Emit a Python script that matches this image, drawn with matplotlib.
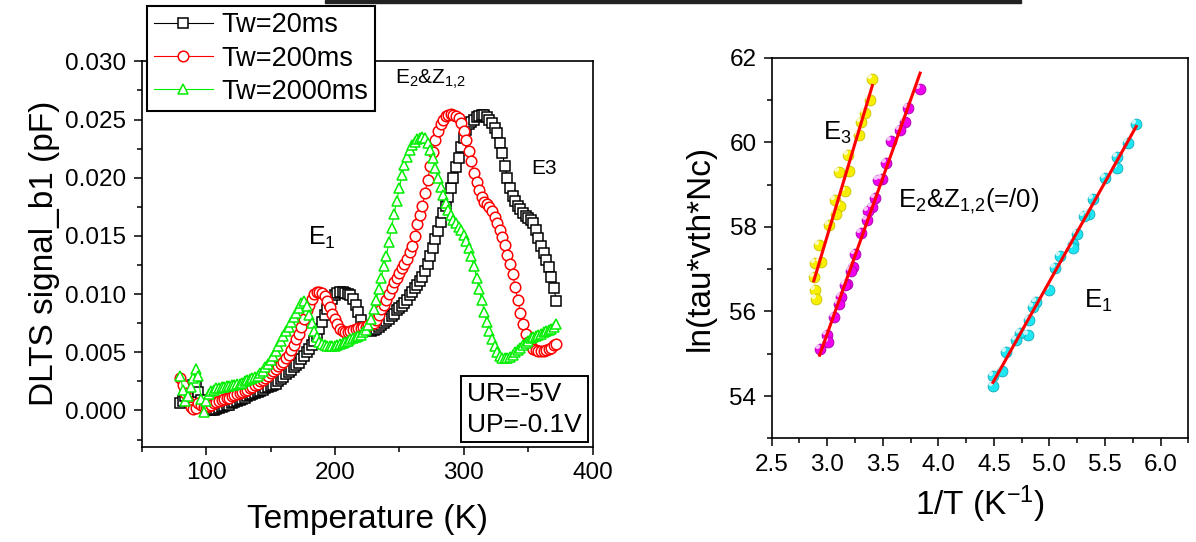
import numpy as np
import matplotlib
matplotlib.use("Agg")
import matplotlib.pyplot as plt
from matplotlib.path import Path
from matplotlib.patches import Rectangle
from matplotlib.ticker import MultipleLocator, FormatStrFormatter

plt.rcParams["font.family"] = ["Liberation Sans", "DejaVu Sans"]
plt.rcParams["mathtext.fontset"] = "custom"
plt.rcParams["mathtext.rm"] = "Liberation Sans"
plt.rcParams["mathtext.it"] = "Liberation Sans"

# ---- DLTS spectra (left panel), temperature step 2 K ----
temp_K = np.arange(80, 374, 2)

sig_20ms = [
    0.0006, 0.0008, 0.0012, 0.0016, 0.0020, 0.0022, 0.0021, 0.0016, 0.0009, 0.0004,
    0.0002, 0.0001, 0.0000, 0.0000, 0.0001, 0.0002, 0.0003, 0.0004, 0.0005, 0.0005,
    0.0006, 0.0007, 0.0008, 0.0009, 0.0010, 0.0011, 0.0012, 0.0013, 0.0014, 0.0015,
    0.0016, 0.0017, 0.0018, 0.0019, 0.0020, 0.0021, 0.0022, 0.0023, 0.0025, 0.0027,
    0.0029, 0.0031, 0.0033, 0.0035, 0.0037, 0.0039, 0.0041, 0.0044, 0.0047, 0.0050,
    0.0053, 0.0056, 0.0060, 0.0064, 0.0070, 0.0076, 0.0082, 0.0087, 0.0092, 0.0096,
    0.0099, 0.0101, 0.0102, 0.0102, 0.0101, 0.0100, 0.0099, 0.0096, 0.0091, 0.0085,
    0.0078, 0.0072, 0.0070, 0.0069, 0.0068, 0.0069, 0.0070, 0.0072, 0.0073, 0.0075,
    0.0077, 0.0079, 0.0081, 0.0083, 0.0086, 0.0088, 0.0090, 0.0092, 0.0095, 0.0099,
    0.0102, 0.0105, 0.0108, 0.0111, 0.0115, 0.0120, 0.0126, 0.0133, 0.0140, 0.0147,
    0.0154, 0.0162, 0.0170, 0.0176, 0.0183, 0.0191, 0.0200, 0.0209, 0.0217, 0.0226,
    0.0234, 0.0241, 0.0246, 0.0248, 0.0250, 0.0252, 0.0253, 0.0254, 0.0254, 0.0252,
    0.0250, 0.0247, 0.0243, 0.0238, 0.0230, 0.0221, 0.0210, 0.0200, 0.0191, 0.0184,
    0.0180, 0.0176, 0.0173, 0.0170, 0.0167, 0.0165, 0.0164, 0.0161, 0.0155, 0.0148,
    0.0141, 0.0135, 0.0129, 0.0123, 0.0115, 0.0105, 0.0094,
]

sig_200ms = [
    0.0028, 0.0022, 0.0015, 0.0008, 0.0003, 0.0001, 0.0002, 0.0006, 0.0005, 0.0003,
    0.0003, 0.0004, 0.0005, 0.0006, 0.0007, 0.0008, 0.0009, 0.0010, 0.0011, 0.0011,
    0.0012, 0.0013, 0.0014, 0.0015, 0.0016, 0.0017, 0.0018, 0.0019, 0.0020, 0.0022,
    0.0023, 0.0025, 0.0026, 0.0028, 0.0030, 0.0032, 0.0034, 0.0036, 0.0038, 0.0040,
    0.0042, 0.0045, 0.0048, 0.0052, 0.0056, 0.0061, 0.0066, 0.0072, 0.0079, 0.0086,
    0.0091, 0.0096, 0.0100, 0.0102, 0.0102, 0.0101, 0.0098, 0.0094, 0.0089, 0.0083,
    0.0079, 0.0074, 0.0070, 0.0068, 0.0067, 0.0067, 0.0068, 0.0069, 0.0070, 0.0071,
    0.0071, 0.0072, 0.0072, 0.0073, 0.0074, 0.0075, 0.0078, 0.0082, 0.0087, 0.0091,
    0.0095, 0.0100, 0.0105, 0.0110, 0.0114, 0.0118, 0.0122, 0.0126, 0.0130, 0.0136,
    0.0141, 0.0150, 0.0160, 0.0168, 0.0176, 0.0187, 0.0198, 0.0210, 0.0222, 0.0232,
    0.0240, 0.0246, 0.0250, 0.0253, 0.0254, 0.0255, 0.0254, 0.0253, 0.0251, 0.0247,
    0.0240, 0.0232, 0.0223, 0.0214, 0.0204, 0.0196, 0.0189, 0.0183, 0.0179, 0.0177,
    0.0175, 0.0171, 0.0166, 0.0161, 0.0155, 0.0149, 0.0142, 0.0134, 0.0126, 0.0117,
    0.0106, 0.0095, 0.0084, 0.0074, 0.0066, 0.0059, 0.0055, 0.0053, 0.0052, 0.0051,
    0.0051, 0.0051, 0.0052, 0.0053, 0.0054, 0.0056, 0.0057,
]

sig_2000ms = [
    0.0030, 0.0018, 0.0008, 0.0012, 0.0020, 0.0028, 0.0036, 0.0030, 0.0010, -0.0001,
    0.0008, 0.0014, 0.0017, 0.0018, 0.0019, 0.0019, 0.0020, 0.0020, 0.0021, 0.0021,
    0.0022, 0.0022, 0.0023, 0.0023, 0.0024, 0.0025, 0.0026, 0.0027, 0.0028, 0.0029,
    0.0030, 0.0032, 0.0034, 0.0037, 0.0040, 0.0043, 0.0047, 0.0051, 0.0055, 0.0060,
    0.0064, 0.0068, 0.0072, 0.0076, 0.0080, 0.0084, 0.0088, 0.0092, 0.0094, 0.0090,
    0.0082, 0.0075, 0.0068, 0.0063, 0.0059, 0.0057, 0.0056, 0.0055, 0.0055, 0.0055,
    0.0055, 0.0056, 0.0057, 0.0058, 0.0059, 0.0060, 0.0061, 0.0062, 0.0063, 0.0064,
    0.0065, 0.0067, 0.0069, 0.0073, 0.0079, 0.0087, 0.0095, 0.0104, 0.0114, 0.0124,
    0.0133, 0.0145, 0.0157, 0.0169, 0.0180, 0.0191, 0.0202, 0.0211, 0.0218, 0.0224,
    0.0228, 0.0231, 0.0233, 0.0234, 0.0235, 0.0234, 0.0230, 0.0224, 0.0217, 0.0208,
    0.0200, 0.0192, 0.0185, 0.0178, 0.0172, 0.0168, 0.0164, 0.0161, 0.0158, 0.0155,
    0.0151, 0.0146, 0.0140, 0.0133, 0.0124, 0.0114, 0.0104, 0.0095, 0.0085, 0.0076,
    0.0068, 0.0061, 0.0055, 0.0050, 0.0047, 0.0045, 0.0045, 0.0045, 0.0046, 0.0048,
    0.0050, 0.0052, 0.0054, 0.0056, 0.0058, 0.0060, 0.0062, 0.0063, 0.0064, 0.0065,
    0.0066, 0.0067, 0.0068, 0.0069, 0.0070, 0.0072, 0.0074,
]

# ---- Arrhenius points (right panel) ----
e3_x = [3.406, 3.382, 3.337, 3.300, 3.289, 3.184, 3.194, 3.108, 3.160, 3.067,
        3.115, 3.081, 3.016, 2.927, 2.944, 2.890, 2.879, 2.890, 2.896]
e3_y = [61.50, 60.99, 60.70, 60.47, 60.18, 59.69, 59.32, 59.30, 58.85, 58.64,
        58.50, 58.30, 58.04, 57.56, 57.18, 57.15, 56.82, 56.51, 56.29]

e2_x = [3.836, 3.730, 3.700, 3.655, 3.577, 3.525, 3.491, 3.460, 3.433, 3.402,
        3.365, 3.358, 3.307, 3.252, 3.235, 3.211, 3.177, 3.160, 3.122, 3.108,
        3.057, 2.999, 3.006, 2.931]
e2_y = [61.26, 60.82, 60.48, 60.28, 60.03, 59.52, 59.14, 59.10, 58.69, 58.46,
        58.38, 58.16, 57.86, 57.36, 57.05, 56.96, 56.66, 56.62, 56.35, 56.17,
        55.87, 55.45, 55.27, 55.10]

e1_x = [5.781, 5.706, 5.610, 5.610, 5.501, 5.388, 5.354, 5.313, 5.244, 5.210,
        5.210, 5.091, 5.046, 4.995, 4.879, 4.851, 4.817, 4.810, 4.732, 4.698,
        4.612, 4.571, 4.492, 4.492]
e1_y = [60.44, 59.98, 59.65, 59.40, 59.16, 58.67, 58.30, 58.26, 57.83, 57.60,
        57.50, 57.32, 57.03, 56.50, 56.23, 56.11, 55.80, 55.45, 55.50, 55.33,
        55.04, 54.60, 54.47, 54.24]

W, H = 1196, 542
fig = plt.figure(figsize=(W / 100, H / 100), dpi=100)

# cropped bar left over at the top of the original figure
fig.patches.append(Rectangle((325 / W, 1 - 3 / H), (1021 - 325) / W, 3 / H,
                             transform=fig.transFigure, color="#222222"))


def style_axes(ax):
    for s in ax.spines.values():
        s.set_linewidth(1.2)
    ax.tick_params(which="both", direction="out", top=False, right=False,
                   labelsize=17.5, width=1.1, pad=5)
    ax.tick_params(which="major", length=6)
    ax.tick_params(which="minor", length=3.5)


# ---------------- left: DLTS spectra ----------------
ax1 = fig.add_axes([141.7 / W, 1 - 447 / H, (592.5 - 141.7) / W, (447 - 60.5) / H])
series = [
    (sig_20ms, "black", "s", 6.8, "Tw=20ms"),
    (sig_200ms, "red", "o", 7.6, "Tw=200ms"),
    (sig_2000ms, "#00ee00", "^", 7.8, "Tw=2000ms"),
]
for vals, col, mk, ms, lab in series:
    ax1.plot(temp_K, vals, "-", color=col, lw=0.8, marker=mk, ms=ms,
             mfc="white", mec=col, mew=1.1, label=lab)

ax1.set_xlim(50, 400)
ax1.set_ylim(-0.00314, 0.03007)
ax1.xaxis.set_major_locator(MultipleLocator(100))
ax1.xaxis.set_minor_locator(MultipleLocator(50))
ax1.yaxis.set_major_locator(MultipleLocator(0.005))
ax1.yaxis.set_minor_locator(MultipleLocator(0.0025))
ax1.yaxis.set_major_formatter(FormatStrFormatter("%.3f"))
style_axes(ax1)
ax1.set_xlabel("Temperature (K)", fontsize=24, labelpad=14)
ax1.set_ylabel("DLTS signal_b1 (pF)", fontsize=24, labelpad=4)

leg = ax1.legend(loc="upper left", bbox_to_anchor=(147 / W, 1 - 6 / H),
                 bbox_transform=fig.transFigure, borderaxespad=0, fontsize=19.5,
                 numpoints=1, handlelength=2.2, handletextpad=0.3,
                 labelspacing=0.26, borderpad=0.24, fancybox=False,
                 edgecolor="black", framealpha=1)
leg.get_frame().set_linewidth(1.5)

ax1.text(0.722, 0.04, "UR=-5V\nUP=-0.1V", transform=ax1.transAxes, fontsize=19,
         ha="left", va="baseline", linespacing=1.35,
         bbox=dict(boxstyle="square,pad=0.22", fc="white", ec="black", lw=1.4))
ax1.text(179.3, 0.0142, "E$_1$", fontsize=18)
ax1.text(246.5, 0.0281, "E$_2$&Z$_{1{,}2}$", fontsize=15)
ax1.text(352.5, 0.0203, "E3", fontsize=15)

# ---------------- right: Arrhenius plot ----------------
ax2 = fig.add_axes([771.7 / W, 1 - 438.3 / H, (1188.3 - 771.7) / W, (438.3 - 57.7) / H])

# small offset disc used as a highlight on the shaded balls
glint = Path.circle(center=(-0.3, 0.3), radius=0.25)
groups = [
    (e3_x, e3_y, "#f7ee00", "#c9c200"),
    (e2_x, e2_y, "#ee00ee", "#a800a8"),
    (e1_x, e1_y, "#1ee6f2", "#10a8b8"),
]
for gx, gy, col, edge in groups:
    ax2.plot(gx, gy, "o", ms=7.8, mfc=col, mec=edge, mew=0.6, ls="none")
    ax2.plot(gx, gy, marker=glint, ms=7.8, mfc="white", mec="none", alpha=0.75, ls="none")
    k, b = np.polyfit(gx, gy, 1)
    xx = np.array([min(gx), max(gx)])
    ax2.plot(xx, k * xx + b, color="red", lw=2.2)

ax2.set_xlim(2.5, 6.25)
ax2.set_ylim(53, 62)
ax2.xaxis.set_major_locator(MultipleLocator(0.5))
ax2.xaxis.set_minor_locator(MultipleLocator(0.25))
ax2.yaxis.set_major_locator(MultipleLocator(2))
ax2.yaxis.set_minor_locator(MultipleLocator(1))
ax2.xaxis.set_major_formatter(FormatStrFormatter("%.1f"))
style_axes(ax2)
ax2.set_xlabel("1/T (K$^{-1}$)", fontsize=24, labelpad=6)
ax2.set_ylabel("ln(tau*vth*Nc)", fontsize=24, labelpad=10)

ax2.text(2.964, 60.05, "E$_3$", fontsize=18.5)
ax2.text(3.638, 58.46, "E$_2$&Z$_{1{,}2}$(=/0)", fontsize=18.5)
ax2.text(5.313, 56.09, "E$_1$", fontsize=18.5)

fig.savefig("out.png", dpi=100)
